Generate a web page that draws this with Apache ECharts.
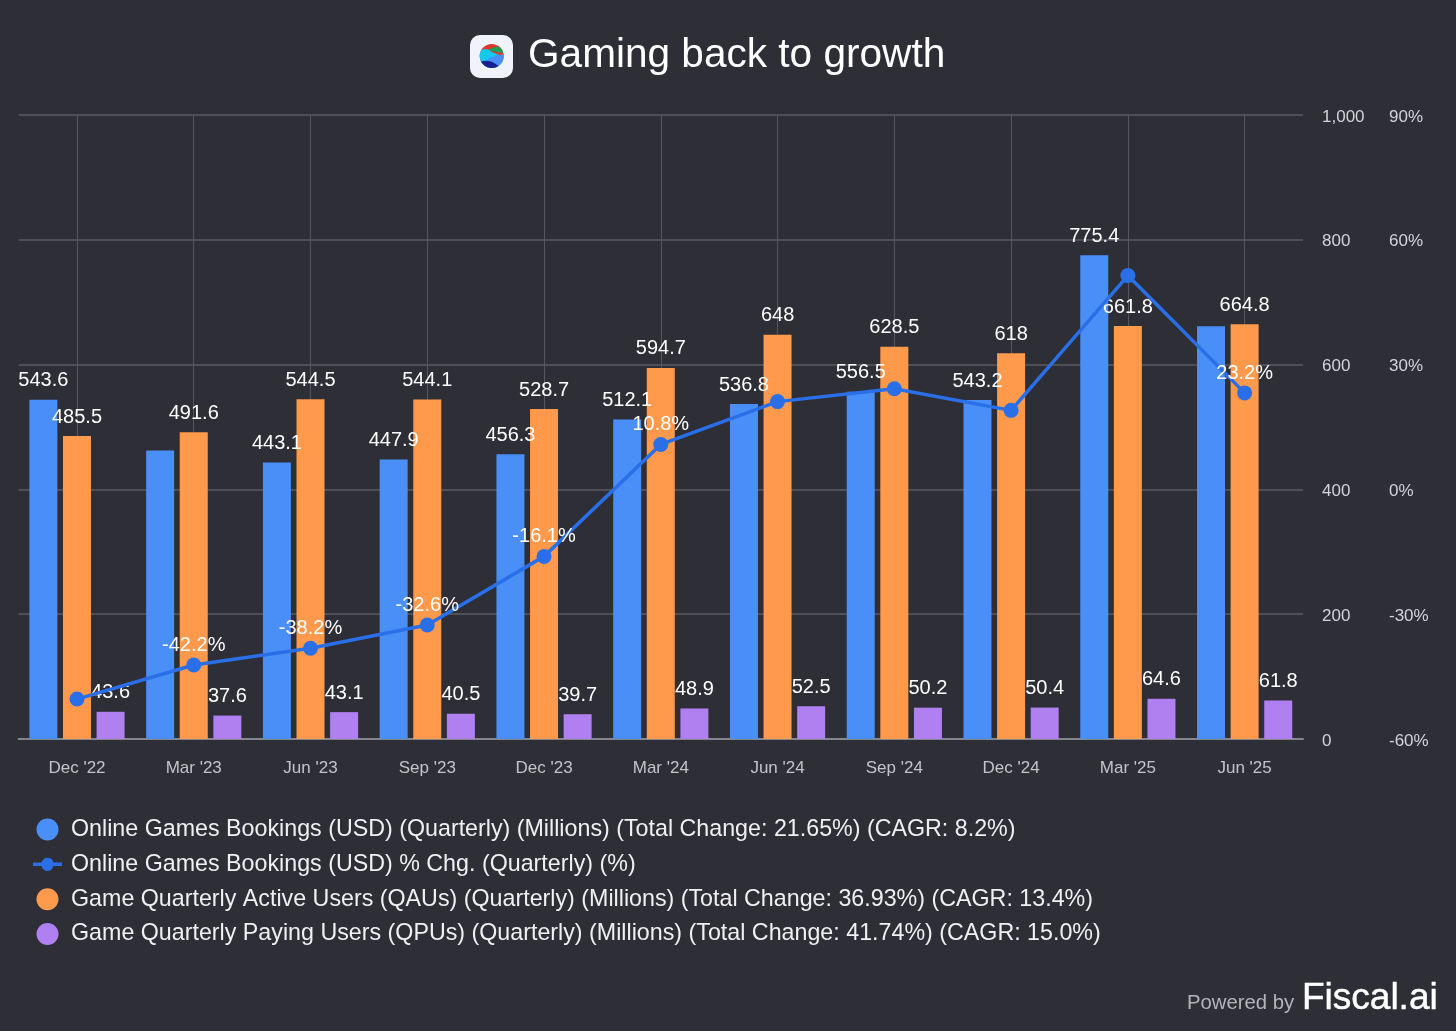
<!DOCTYPE html>
<html>
<head>
<meta charset="utf-8">
<style>
  html, body { margin: 0; background: #2d2e36; }
  #chart { width: 1456px; height: 1031px; }
</style>
<script src="https://cdn.jsdelivr.net/npm/echarts@6/dist/echarts.min.js"></script>
</head>
<body>
<div id="chart"></div>
<script>
const quarters = ["Dec '22", "Mar '23", "Jun '23", "Sep '23", "Dec '23", "Mar '24", "Jun '24", "Sep '24", "Dec '24", "Mar '25", "Jun '25"]
const bookings = [543.6, 462.2, 443.1, 447.9, 456.3, 512.1, 536.8, 556.5, 543.2, 775.4, 661.3]
const bookingsPct = [-50.4, -42.2, -38.2, -32.6, -16.1, 10.8, 21.1, 24.2, 19.0, 51.4, 23.2]
const activeUsers = [485.5, 491.6, 544.5, 544.1, 528.7, 594.7, 648, 628.5, 618, 661.8, 664.8]
const payingUsers = [43.6, 37.6, 43.1, 40.5, 39.7, 48.9, 52.5, 50.2, 50.4, 64.6, 61.8]

// these labels are not shown in the original
const hiddenBookingLabels = [1, 10]
const hiddenPctLabels = [0, 6, 7, 8, 9]

const seriesNames = [
  'Online Games Bookings (USD) (Quarterly) (Millions) (Total Change: 21.65%) (CAGR: 8.2%)',
  'Online Games Bookings (USD) % Chg. (Quarterly) (%)',
  'Game Quarterly Active Users (QAUs) (Quarterly) (Millions) (Total Change: 36.93%) (CAGR: 13.4%)',
  'Game Quarterly Paying Users (QPUs) (Quarterly) (Millions) (Total Change: 41.74%) (CAGR: 15.0%)'
]

const font = '"Liberation Sans", Arial, sans-serif'
const colors = { blue: '#4a8ff7', line: '#2a6fe8', orange: '#ff9a4d', purple: '#b07ff0' }

const barLabel = {
  show: true,
  position: 'top',
  distance: 9,
  color: '#fff',
  fontFamily: font,
  fontSize: 20
}

function barSeries(name, values, color, hidden) {
  return {
    name,
    type: 'bar',
    yAxisIndex: 0,
    barWidth: 28,
    barGap: '20%',
    itemStyle: { color },
    label: barLabel,
    data: values.map((value, i) => (
      hidden.includes(i) ? { value, label: { show: false } } : value
    ))
  }
}

// one coloured band of the logo: curves along its top, then back round the disc edge
const logoDisc = { cx: 491.7, cy: 56, r: 12 }
echarts.graphic.registerShape('logoBand', echarts.graphic.extendShape({
  shape: { start: [0, 0], curves: [] },
  buildPath(ctx, shape) {
    const { cx, cy, r } = logoDisc
    const [sx, sy] = shape.start
    ctx.moveTo(sx, sy)
    let last = shape.start
    shape.curves.forEach(c => {
      ctx.quadraticCurveTo(c[0], c[1], c[2], c[3])
      last = [c[2], c[3]]
    })
    ctx.arc(cx, cy, r, Math.atan2(last[1] - cy, last[0] - cx), Math.atan2(sy - cy, sx - cx), false)
    ctx.closePath()
  }
}))

function logoBand(fill, start, curves) {
  return { type: 'logoBand', shape: { start, curves }, style: { fill } }
}

// right hand tick labels sit a little under their grid line
const rightAxisLabel = {
  color: '#d4d4d8',
  fontFamily: font,
  fontSize: 17,
  margin: 19,
  align: 'left',
  verticalAlign: 'top',
  lineHeight: 4
}

const chart = echarts.init(document.getElementById('chart'))

chart.setOption({
  backgroundColor: '#2d2e36',
  animation: false,
  title: {
    text: 'Gaming back to growth',
    left: 528,
    top: 35,
    padding: 0,
    textStyle: { color: '#fff', fontFamily: font, fontSize: 40.6, fontWeight: 'normal' }
  },
  grid: { left: 18.6, right: 153, top: 115, bottom: 292 },
  legend: {
    orient: 'vertical',
    left: 33,
    top: 818,
    padding: 0,
    itemWidth: 29,
    itemHeight: 22,
    itemGap: 11.85,
    data: [
      { name: seriesNames[0], icon: 'circle' },
      { name: seriesNames[1], icon: 'path://M0 4.25H8.6A6 6 0 0 1 20.4 4.25H29V7.75H20.4A6 6 0 0 1 8.6 7.75H0Z' },
      { name: seriesNames[2], icon: 'circle' },
      { name: seriesNames[3], icon: 'circle' }
    ],
    textStyle: { color: '#f0f0f2', fontFamily: font, fontSize: 23.25, padding: [0, 0, 0, 4] }
  },
  xAxis: {
    type: 'category',
    data: quarters,
    axisLine: { onZero: false, lineStyle: { color: '#85868c', width: 2 } },
    axisTick: { alignWithLabel: true, length: 17, lineStyle: { color: '#46474f' } },
    axisLabel: { color: '#c4c4c8', fontFamily: font, fontSize: 17, margin: 21 },
    splitLine: { show: true, alignWithLabel: true, lineStyle: { color: '#55565e' } }
  },
  yAxis: [
    {
      type: 'value',
      position: 'right',
      min: 0,
      max: 1000,
      interval: 200,
      axisLine: { show: false },
      axisTick: { show: false },
      axisLabel: rightAxisLabel,
      splitLine: { lineStyle: { color: '#5a5b63', width: 1.5 } }
    },
    {
      type: 'value',
      position: 'right',
      offset: 67,
      min: -60,
      max: 90,
      interval: 30,
      axisLine: { show: false },
      axisTick: { show: false },
      axisLabel: { ...rightAxisLabel, formatter: '{value}%' },
      splitLine: { show: false }
    }
  ],
  series: [
    barSeries(seriesNames[0], bookings, colors.blue, hiddenBookingLabels),
    {
      name: seriesNames[1],
      type: 'line',
      yAxisIndex: 1,
      z: 5,
      symbol: 'circle',
      symbolSize: 15,
      lineStyle: { color: colors.line, width: 3.5 },
      itemStyle: { color: colors.line },
      label: { ...barLabel, distance: 2, formatter: p => p.value + '%' },
      data: bookingsPct.map((value, i) => (
        hiddenPctLabels.includes(i) ? { value, label: { show: false } } : value
      ))
    },
    barSeries(seriesNames[2], activeUsers, colors.orange, []),
    barSeries(seriesNames[3], payingUsers, colors.purple, [])
  ],
  graphic: [
    { type: 'rect', shape: { x: 470, y: 35, width: 43, height: 43, r: 10 }, style: { fill: '#f1f3fb' } },
    { type: 'circle', shape: logoDisc, style: { fill: '#e0352b' } },
    logoBand('#1f9d55', [503.4, 53], [[495, 52.5, 488, 50], [495, 45.5, 500, 47.4]]),
    logoBand('#14c8ee', [481.3, 50], [[487, 47, 492, 52], [498, 55, 503.7, 56]]),
    logoBand('#4a8ff7', [484, 65.2], [[487, 58, 492, 57], [498, 54, 503.6, 54.5]]),
    logoBand('#16208f', [481, 61.4], [[490, 59, 498.5, 65.9]]),
    {
      type: 'text',
      style: { x: 1187, y: 1003, text: 'Powered by', fill: '#b4b4b8', font: '20.3px ' + font, textVerticalAlign: 'middle' }
    },
    {
      type: 'text',
      style: { x: 1302, y: 999, text: 'Fiscal.ai', fill: '#fff', stroke: '#fff', lineWidth: 0.5, font: '37px ' + font, textVerticalAlign: 'middle' }
    }
  ]
})
</script>
</body>
</html>
